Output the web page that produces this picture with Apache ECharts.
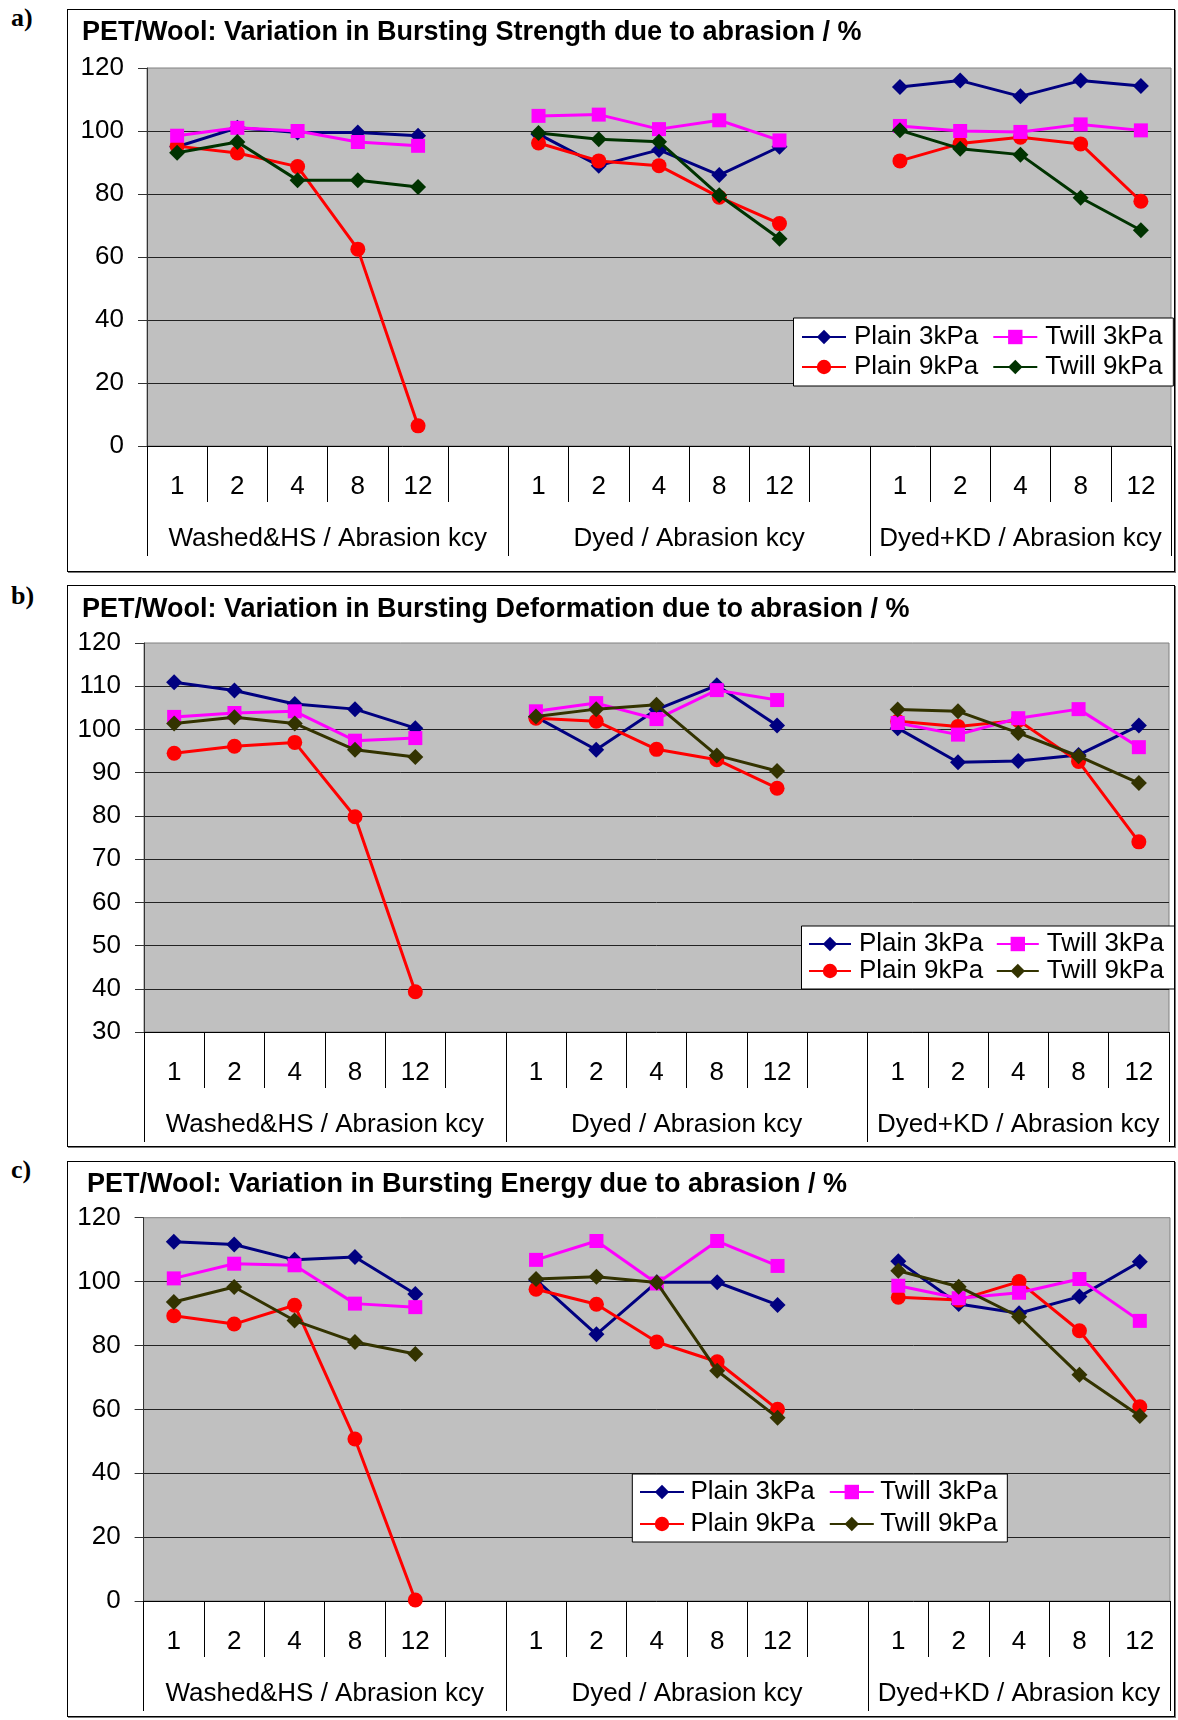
<!DOCTYPE html>
<html><head><meta charset="utf-8">
<script src="https://cdn.jsdelivr.net/npm/echarts@6/dist/echarts.min.js"></script>
<style>
html,body{margin:0;padding:0;background:#fff;width:1178px;height:1720px;overflow:hidden;}
.panel{position:absolute;box-sizing:border-box;border:1px solid #000;box-shadow:1px 1px 0 #777;background:#fff;}
.chart{position:absolute;left:0;top:0;right:0;bottom:0;}
.tag{position:absolute;font-family:'Liberation Serif','Times New Roman',serif;font-weight:bold;font-size:26px;color:#000;line-height:28px;}
</style></head><body>
<div class="tag" style="left:11px;top:4px">a)</div>
<div class="tag" style="left:11px;top:582px">b)</div>
<div class="tag" style="left:11px;top:1156px">c)</div>
<div class="panel" style="left:67px;top:9px;width:1108px;height:563px"><div class="chart" id="ca"></div></div>
<div class="panel" style="left:67px;top:585px;width:1108px;height:562px"><div class="chart" id="cb"></div></div>
<div class="panel" style="left:67px;top:1161px;width:1108px;height:556px"><div class="chart" id="cc"></div></div>
<script>
// ---------- data ----------
const ABRASION_KCY = ['1', '2', '4', '8', '12'];
const GROUPS = ['Washed&HS / Abrasion kcy', 'Dyed / Abrasion kcy', 'Dyed+KD / Abrasion kcy'];
const SERIES_NAMES = ['Plain 3kPa', 'Plain 9kPa', 'Twill 3kPa', 'Twill 9kPa'];
const LEGEND_ORDER = ['Plain 3kPa', 'Twill 3kPa', 'Plain 9kPa', 'Twill 9kPa'];

// a) Bursting Strength (Washed&HS 1..12, Dyed 1..12, Dyed+KD 1..12)
const S_PLAIN3 = [95, 101, 99.5, 99.5, 98.5, 99, 89, 94, 86, 95, 114, 116, 111, 116, 114.3];
const S_PLAIN9 = [95.2, 93, 88.7, 62.5, 6.4, 96.2, 90.5, 89, 79, 70.6, 90.5, 96, 98, 95.9, 77.7];
const S_TWILL3 = [98.5, 101, 100, 96.5, 95.3, 104.8, 105.2, 100.6, 103.4, 97, 101.6, 100, 99.7, 102.1, 100.2];
const S_TWILL9 = [93.1, 96.5, 84.4, 84.4, 82.2, 99.4, 97.4, 96.6, 79.6, 65.8, 100.2, 94.4, 92.5, 78.8, 68.5];

// b) Bursting Deformation
const D_PLAIN3 = [110.9, 109, 105.9, 104.7, 100.3, 102.9, 95.3, 104.6, 110.2, 100.9, 100.3, 92.4, 92.7, 94.1, 100.9];
const D_PLAIN9 = [94.5, 96.1, 97, 79.8, 39.3, 102.6, 101.9, 95.4, 93, 86.4, 101.9, 100.7, 102.1, 92.6, 74];
const D_TWILL3 = [102.9, 103.8, 104.2, 97.4, 98, 104.2, 106.1, 102.4, 109.1, 106.8, 101.5, 98.8, 102.6, 104.7, 95.9];
const D_TWILL9 = [101.4, 102.8, 101.4, 95.3, 93.6, 103, 104.7, 105.7, 94, 90.4, 104.6, 104.2, 99.2, 93.8, 87.6];

// c) Bursting Energy
const E_PLAIN3 = [112.5, 111.6, 106.8, 107.7, 96.1, 100.5, 83.5, 99.8, 99.8, 92.7, 106.4, 93, 90.1, 95.3, 106.2];
const E_PLAIN9 = [89.3, 86.7, 92.6, 50.7, 0.3, 97.6, 92.9, 81.1, 74.9, 60, 95.1, 94.2, 100, 84.6, 60.8];
const E_TWILL3 = [101, 105.6, 105.1, 93.1, 92, 106.8, 112.7, 99.4, 112.7, 104.9, 98.7, 94.8, 96.5, 100.8, 87.7];
const E_TWILL9 = [93.6, 98.3, 87.8, 81.1, 77.3, 100.8, 101.5, 99.7, 72.1, 57.4, 103.4, 98.4, 89, 70.8, 57.9];

const Y_TICKS_A = [0, 120, 20];
const Y_TICKS_B = [30, 120, 10];
const Y_TICKS_C = [0, 120, 20];

// ---------- derived category structure ----------
const CAT_LABELS = [];
const GROUP_SPANS = [];
GROUPS.forEach((g, gi) => {
  const start = CAT_LABELS.length;
  ABRASION_KCY.forEach(k => CAT_LABELS.push(k));
  if (gi < GROUPS.length - 1) CAT_LABELS.push('');
  GROUP_SPANS.push([start, CAT_LABELS.length]);
});
const HALF_N = CAT_LABELS.length * 2;
const HALF_TICKS = new Set();
const HALF_LABELS = {};
GROUP_SPANS.forEach(([s, e], gi) => {
  HALF_TICKS.add(s * 2); HALF_TICKS.add(e * 2);
  HALF_LABELS[s + e] = GROUPS[gi];
});
const HALF_DATA = [];
for (let i = 0; i <= HALF_N; i++) HALF_DATA.push('h' + i);

function expand(v) {
  const out = [];
  GROUPS.forEach((g, gi) => {
    const part = v.slice(gi * ABRASION_KCY.length, (gi + 1) * ABRASION_KCY.length);
    part.forEach(x => out.push(x));
    if (gi < GROUPS.length - 1) out.push(null);
  });
  return out;
}

// ---------- styles / layout ----------
const FONT = "'Liberation Sans', Arial, sans-serif";
const PANELS = [
  { el: 'ca', title: 'PET/Wool: Variation in Bursting Strength due to abrasion / %',
    titlePos: { left: 14, top: 9 }, grid: { left: 79, top: 58, right: 3, bottom: 125 },
    y: Y_TICKS_A, data: [S_PLAIN3, S_PLAIN9, S_TWILL3, S_TWILL9], t9: '#003300',
    legend: { left: 725.5, top: 308, itemWidth: 44, itemGap: 4, padding: [6, 1, 6, 7.5], tp: [0, 10, 0, 3] } },
  { el: 'cb', title: 'PET/Wool: Variation in Bursting Deformation due to abrasion / %',
    titlePos: { left: 14, top: 10 }, grid: { left: 76, top: 57, right: 5, bottom: 114 },
    y: Y_TICKS_B, data: [D_PLAIN3, D_PLAIN9, D_TWILL3, D_TWILL9], t9: '#333300',
    legend: { left: 733.5, top: 340, itemWidth: 42, itemGap: 1, padding: [5, 0, 5, 6.5], tp: [0, 11.5, 0, 3] } },
  { el: 'cc', title: 'PET/Wool: Variation in Bursting Energy due to abrasion / %',
    titlePos: { left: 19, top: 9 }, grid: { left: 75.6, top: 55.7, right: 4, bottom: 115 },
    y: Y_TICKS_C, data: [E_PLAIN3, E_PLAIN9, E_TWILL3, E_TWILL9], t9: '#333300',
    legend: { left: 564.3, top: 312, itemWidth: 44, itemGap: 6, padding: [5, 2, 5, 6.7], tp: [0, 8, 0, 1.5] } }
];

PANELS.forEach(p => {
  const chart = echarts.init(document.getElementById(p.el), null, { renderer: 'canvas' });
  const colors = ['#000080', '#FF0000', '#FF00FF', p.t9];
  const symbols = ['diamond', 'circle', 'rect', 'diamond'];
  const sizes = [16, 15, 14, 16];
  chart.setOption({
    animation: false,
    textStyle: { fontFamily: FONT },
    title: {
      text: p.title, left: p.titlePos.left, top: p.titlePos.top, padding: 0,
      textStyle: { fontFamily: FONT, fontSize: 27, fontWeight: 'bold', color: '#000' }
    },
    legend: {
      data: LEGEND_ORDER, orient: 'horizontal', left: p.legend.left, top: p.legend.top,
      width: 385, itemWidth: p.legend.itemWidth, itemHeight: 18, itemGap: p.legend.itemGap,
      padding: p.legend.padding, backgroundColor: '#fff', borderColor: '#000', borderWidth: 1,
      borderRadius: 0,
      formatter: (name) => '{n|' + name + '}',
      textStyle: {
        fontFamily: FONT, fontSize: 26, color: '#000',
        rich: { n: { fontFamily: FONT, fontSize: 26, color: '#000', lineHeight: 26, padding: p.legend.tp } }
      }
    },
    grid: Object.assign({ show: true, backgroundColor: '#C0C0C0', borderColor: '#808080', borderWidth: 1, containLabel: false }, p.grid),
    xAxis: [
      {
        type: 'category', position: 'bottom', data: CAT_LABELS.map((_, i) => 'c' + i), boundaryGap: true,
        axisLine: { show: true, onZero: false, lineStyle: { color: '#000', width: 1 } },
        axisTick: { show: true, interval: 0, length: 56, lineStyle: { color: '#000', width: 1 } },
        axisLabel: { interval: 0, margin: 28, fontSize: 26, color: '#000', fontFamily: FONT,
          formatter: (v, i) => CAT_LABELS[i] },
        splitLine: { show: false }
      },
      {
        type: 'category', position: 'bottom', data: HALF_DATA, boundaryGap: false,
        axisLine: { show: false, onZero: false },
        axisTick: { show: true, length: 110, interval: (i) => HALF_TICKS.has(i), lineStyle: { color: '#000', width: 1 } },
        axisLabel: { margin: 80, fontSize: 26, color: '#000', fontFamily: FONT,
          interval: (i) => HALF_LABELS[i] !== undefined,
          formatter: (v, i) => HALF_LABELS[i] || '' },
        splitLine: { show: false }
      }
    ],
    yAxis: {
      type: 'value', min: p.y[0], max: p.y[1], interval: p.y[2],
      axisLine: { show: true, lineStyle: { color: '#333', width: 1 } },
      axisTick: { show: true, length: 9, lineStyle: { color: '#333', width: 1 } },
      axisLabel: { margin: 23, fontSize: 26, color: '#000', fontFamily: FONT },
      splitLine: { show: true, showMaxLine: false, showMinLine: false, lineStyle: { color: '#222', width: 1 } }
    },
    series: SERIES_NAMES.map((name, si) => ({
      name: name, type: 'line', xAxisIndex: 0, data: expand(p.data[si]),
      connectNulls: false, showAllSymbol: true, symbol: symbols[si], symbolSize: sizes[si],
      itemStyle: { color: colors[si] }, lineStyle: { color: colors[si], width: 3 },
      emphasis: { disabled: true }, z: 2 + si
    }))
  });
});
</script>
</body></html>
